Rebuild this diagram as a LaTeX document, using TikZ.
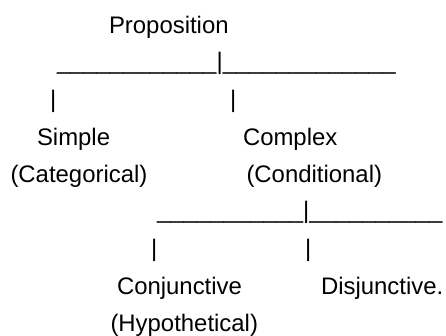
\documentclass[tikz,border=0pt]{standalone}
\usepackage{fontspec}
\setmainfont{Liberation Sans}
\begin{document}
\begin{tikzpicture}[x=1bp,y=-1bp,
  txt/.style={anchor=base west,inner sep=0pt,outer sep=0pt,font=\fontsize{24}{28}\selectfont}]
\useasboundingbox (0,0) rectangle (446,335);
\node[txt] (prop) at (109,33) {Proposition};
\node[txt] (line1) at (57,69) {\_\_\_\_\_\_\_\_\_\_\_\_|\_\_\_\_\_\_\_\_\_\_\_\_\_};
\node[txt] (barA) at (50,107) {|};
\node[txt] (barB) at (230,107) {|};
\node[txt] (simple) at (37,145) {Simple};
\node[txt] (complex) at (243,145) {Complex};
\node[txt] (categ) at (10.5,182) {(Categorical)};
\node[txt] (condit) at (246.5,182) {(Conditional)};
\node[txt] (line2) at (157,218) {\_\_\_\_\_\_\_\_\_\_\_|\_\_\_\_\_\_\_\_\_\_};
\node[txt] (barC) at (151,256) {|};
\node[txt] (barD) at (305,256) {|};
\node[txt] (conj) at (117,294) {Conjunctive};
\node[txt] (disj) at (321,294) {Disjunctive.};
\node[txt] (hypo) at (110.5,331) {(Hypothetical)};
\end{tikzpicture}
\end{document}
